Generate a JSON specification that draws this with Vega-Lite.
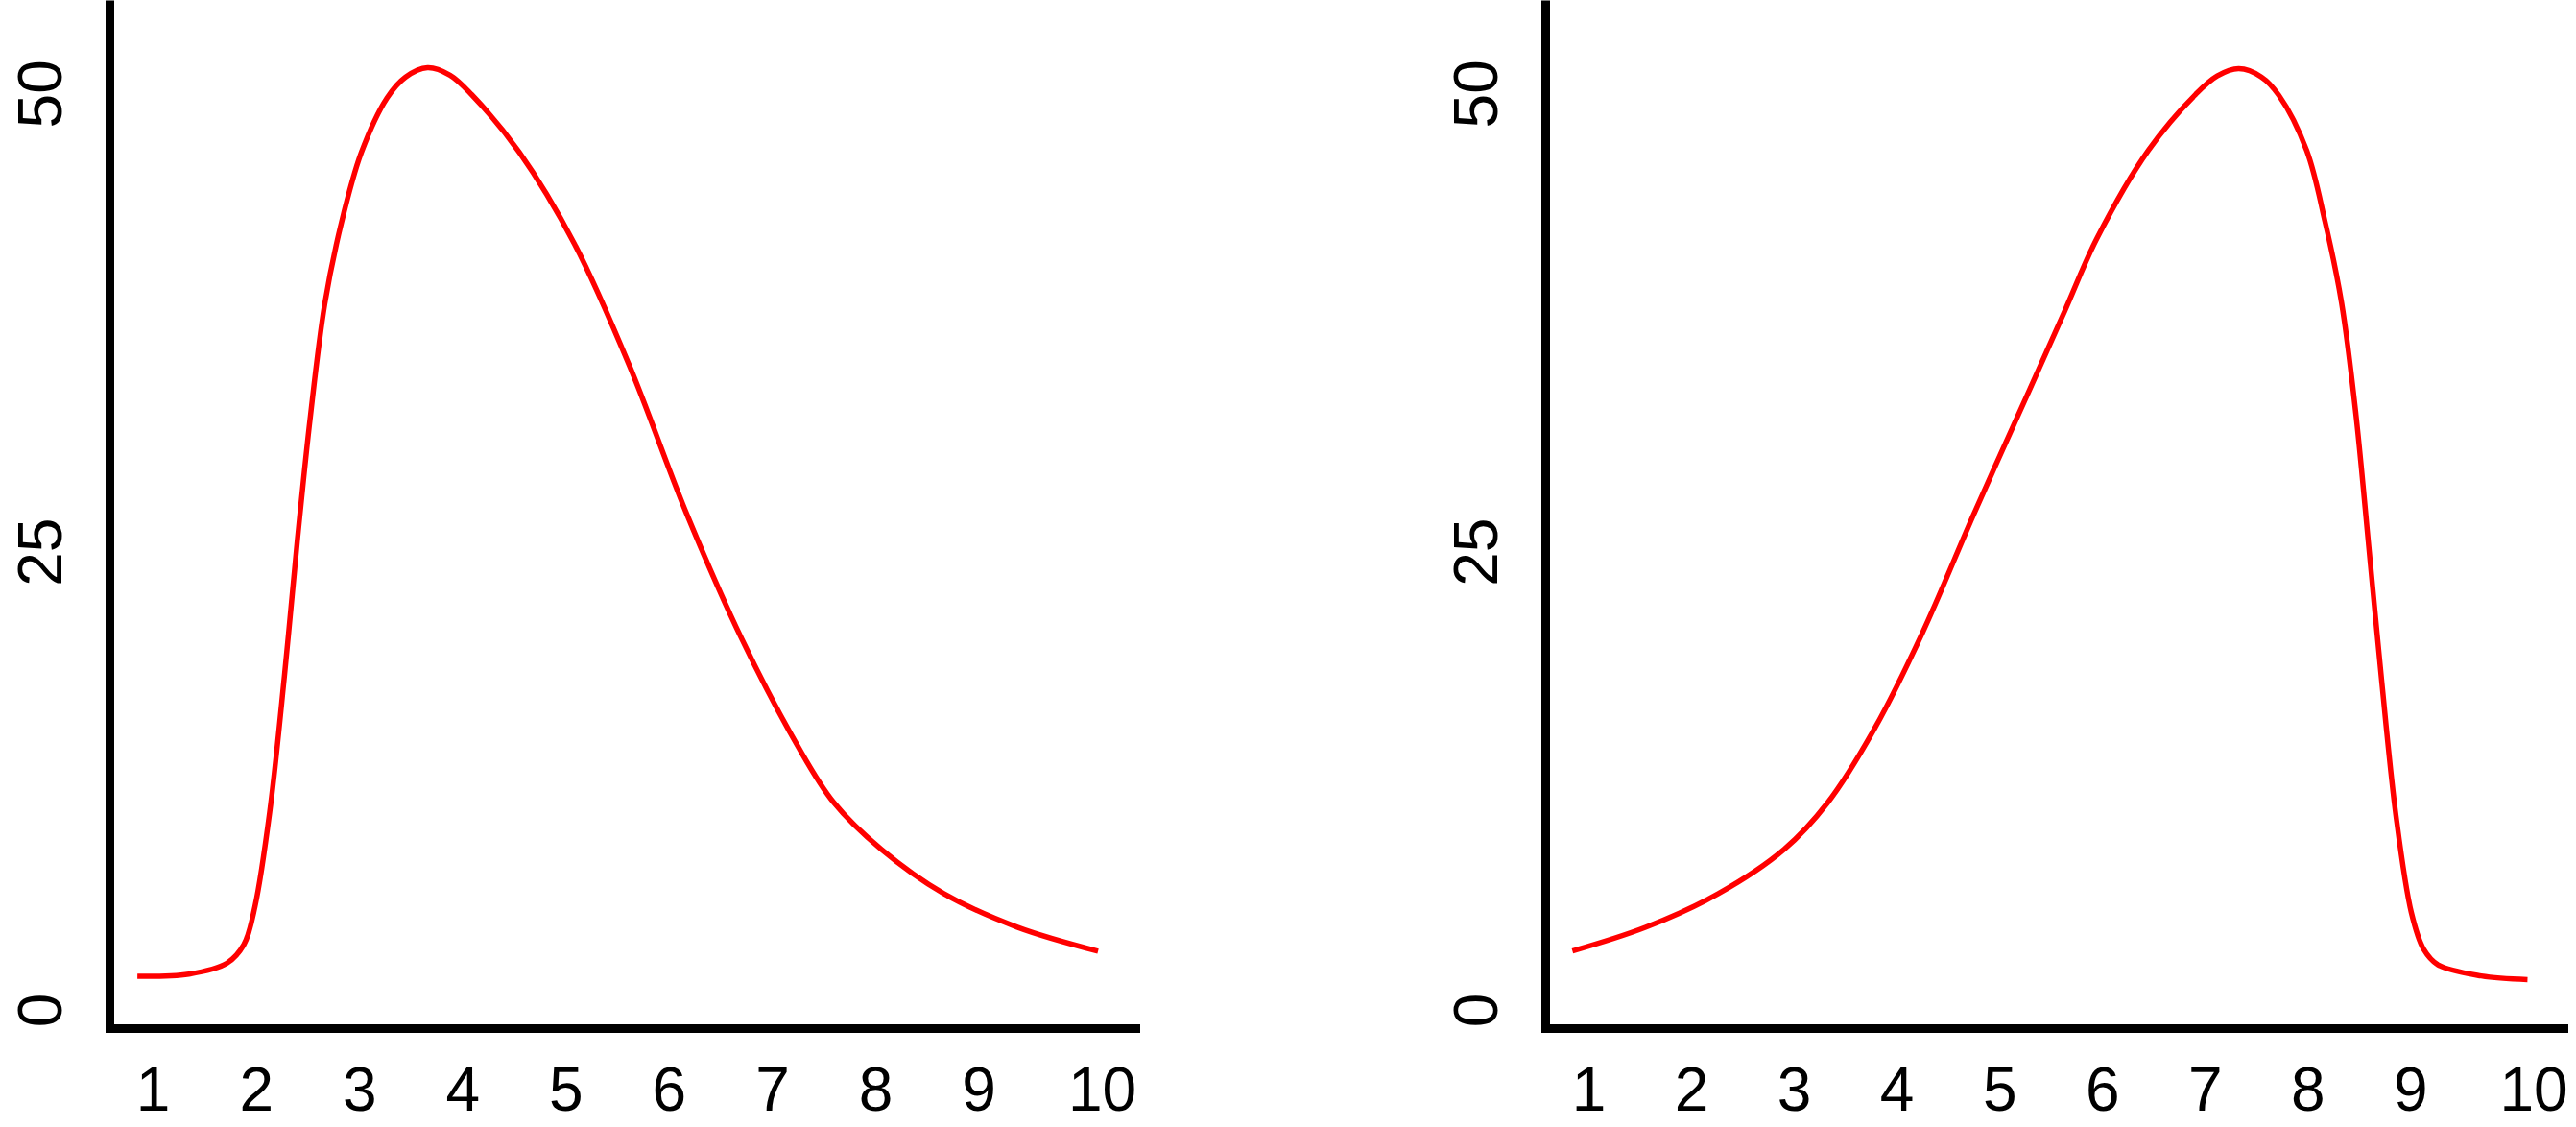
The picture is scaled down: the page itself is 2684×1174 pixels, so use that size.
{
  "$schema": "https://vega.github.io/schema/vega-lite/v6.json",
  "padding": {"left": 12, "top": 0, "right": 0, "bottom": 3},
  "background": "white",
  "bounds": "flush",
  "spacing": 427,
  "config": {
    "view": {"stroke": null},
    "axis": {
      "domainColor": "black",
      "domainWidth": 9,
      "ticks": false,
      "grid": false,
      "labelFont": "Liberation Sans Narrow, Liberation Sans",
      "labelFontSize": 64,
      "labelColor": "black",
      "labelFlush": false,
      "labelOverlap": false
    },
    "axisX": {"domainCap": "square"},
    "axisY": {"domainCap": "butt"}
  },
  "datasets": {
    "left": [
      {"x": 0.851, "y": 1.83}, {"x": 1.35, "y": 1.95}, {"x": 1.72, "y": 2.55}, {"x": 1.883, "y": 3.56},
      {"x": 1.991, "y": 5.66}, {"x": 2.133, "y": 10.79}, {"x": 2.275, "y": 18.18}, {"x": 2.4, "y": 25.56},
      {"x": 2.524, "y": 32.22}, {"x": 2.666, "y": 38.5}, {"x": 2.826, "y": 42.9}, {"x": 3.021, "y": 46.78},
      {"x": 3.27, "y": 49.76}, {"x": 3.45, "y": 50.9}, {"x": 3.662, "y": 51.41}, {"x": 3.88, "y": 51.0},
      {"x": 4.089, "y": 49.94}, {"x": 4.551, "y": 46.79},
      {"x": 5.085, "y": 41.8}, {"x": 5.618, "y": 35.15}, {"x": 6.175, "y": 27.03}, {"x": 6.708, "y": 20.22},
      {"x": 7.242, "y": 14.46}, {"x": 7.598, "y": 11.31}, {"x": 8.06, "y": 8.75}, {"x": 8.664, "y": 6.34},
      {"x": 9.376, "y": 4.51}, {"x": 10.158, "y": 3.2}
    ],
    "right": [
      {"x": 0.845, "y": 3.21}, {"x": 1.555, "y": 4.5}, {"x": 2.265, "y": 6.34}, {"x": 2.904, "y": 8.75},
      {"x": 3.33, "y": 11.31}, {"x": 3.791, "y": 15.4}, {"x": 4.253, "y": 20.59}, {"x": 4.75, "y": 27.03},
      {"x": 5.282, "y": 33.68}, {"x": 5.637, "y": 38.14}, {"x": 5.95, "y": 42.1}, {"x": 6.45, "y": 46.9},
      {"x": 6.91, "y": 49.95}, {"x": 7.12, "y": 50.95}, {"x": 7.33, "y": 51.35}, {"x": 7.55, "y": 50.9},
      {"x": 7.72, "y": 49.9}, {"x": 7.99, "y": 46.9}, {"x": 8.17, "y": 43.0}, {"x": 8.33, "y": 38.6},
      {"x": 8.47, "y": 32.5}, {"x": 8.6, "y": 25.0}, {"x": 8.72, "y": 18.0}, {"x": 8.86, "y": 10.6},
      {"x": 9.01, "y": 5.3}, {"x": 9.13, "y": 3.3}, {"x": 9.27, "y": 2.45}, {"x": 9.69, "y": 1.85},
      {"x": 10.14, "y": 1.65}
    ]
  },
  "hconcat": [
    {
      "width": 1069,
      "height": 1071,
      "data": {"name": "left"},
      "mark": {"type": "line", "color": "#ff0000", "strokeWidth": 5.5, "interpolate": "catmull-rom"},
      "encoding": {
        "x": {
          "field": "x", "type": "quantitative",
          "scale": {"domain": [0.58, 10.52], "nice": false, "zero": false},
          "axis": {
            "values": [1, 2, 3, 4, 5, 6, 7, 8, 9, 10],
            "labelAngle": 0, "labelPadding": 34, "labelBaseline": "top", "title": null,
            "labelOffset": {"condition": {"test": "datum.value == 10", "value": 21}, "value": 0}
          }
        },
        "y": {
          "field": "y", "type": "quantitative",
          "scale": {"domain": [-1.0, 55.1], "nice": false, "zero": false},
          "axis": {
            "values": [0, 25, 50],
            "labelAngle": -90, "labelAlign": "center", "labelBaseline": "bottom",
            "labelPadding": 38, "title": null
          }
        }
      }
    },
    {
      "width": 1062,
      "height": 1071,
      "data": {"name": "right"},
      "mark": {"type": "line", "color": "#ff0000", "strokeWidth": 5.5, "interpolate": "catmull-rom"},
      "encoding": {
        "x": {
          "field": "x", "type": "quantitative",
          "scale": {"domain": [0.58, 10.5], "nice": false, "zero": false},
          "axis": {
            "values": [1, 2, 3, 4, 5, 6, 7, 8, 9, 10],
            "labelAngle": 0, "labelPadding": 34, "labelBaseline": "top", "title": null,
            "labelOffset": {"condition": {"test": "datum.value == 10", "value": 21}, "value": 0}
          }
        },
        "y": {
          "field": "y", "type": "quantitative",
          "scale": {"domain": [-1.0, 55.1], "nice": false, "zero": false},
          "axis": {
            "values": [0, 25, 50],
            "labelAngle": -90, "labelAlign": "center", "labelBaseline": "bottom",
            "labelPadding": 38, "title": null
          }
        }
      }
    }
  ]
}
